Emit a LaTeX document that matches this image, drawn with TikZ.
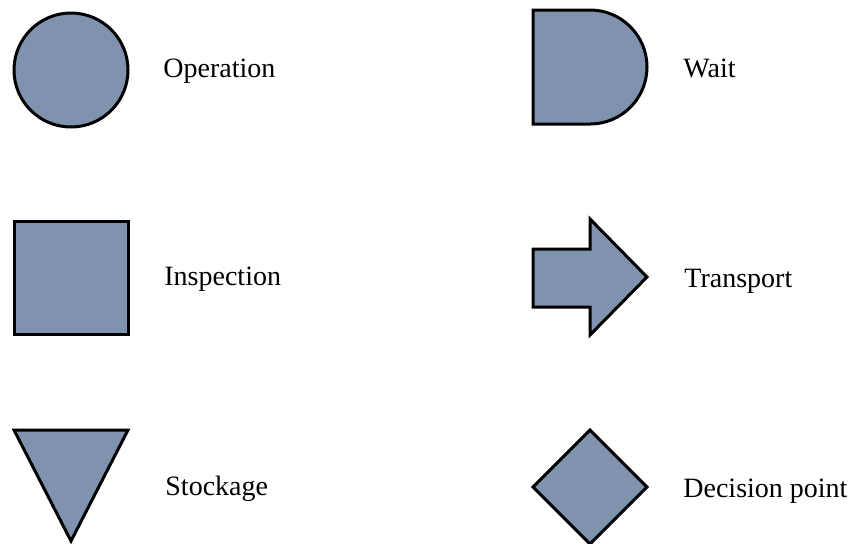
\documentclass[tikz,border=0pt]{standalone}
\usepackage{fontspec}
\setmainfont{Liberation Serif}
\begin{document}
\begin{tikzpicture}[x=0.5pt,y=-0.5pt,
  symbol/.style={draw=black,fill=symfill,line width=1.5pt,line join=miter},
  legend/.style={anchor=base west,inner sep=0pt,font=\fontsize{14}{16}\selectfont}]
\definecolor{symfill}{RGB}{128,147,174}
\useasboundingbox (0,0) rectangle (850,543);
% left column
\draw[symbol] (71,70) circle[radius=57*0.5pt];
\node[legend] (op) at (163,77) {Operation};
\draw[symbol] (14,221) rectangle (128,334);
\node[legend] (insp) at (164,285) {Inspection};
\draw[symbol] (14,430) -- (128,430) -- (71,541) -- cycle;
\node[legend] (stock) at (165,495) {Stockage};
% right column
\draw[symbol] (533,10) -- (590,10) arc[start angle=90,end angle=-90,radius=57*0.5pt] -- (533,124) -- cycle;
\node[legend] (wait) at (683,77) {Wait};
\draw[symbol] (533,249) -- (590,249) -- (590,219) -- (647,277) -- (590,335) -- (590,307) -- (533,307) -- cycle;
\node[legend] (trans) at (684,287) {Transport};
\draw[symbol] (533,487) -- (590,430) -- (647,487) -- (590,544) -- cycle;
\node[legend] (dec) at (683,497) {Decision point};
\end{tikzpicture}
\end{document}
